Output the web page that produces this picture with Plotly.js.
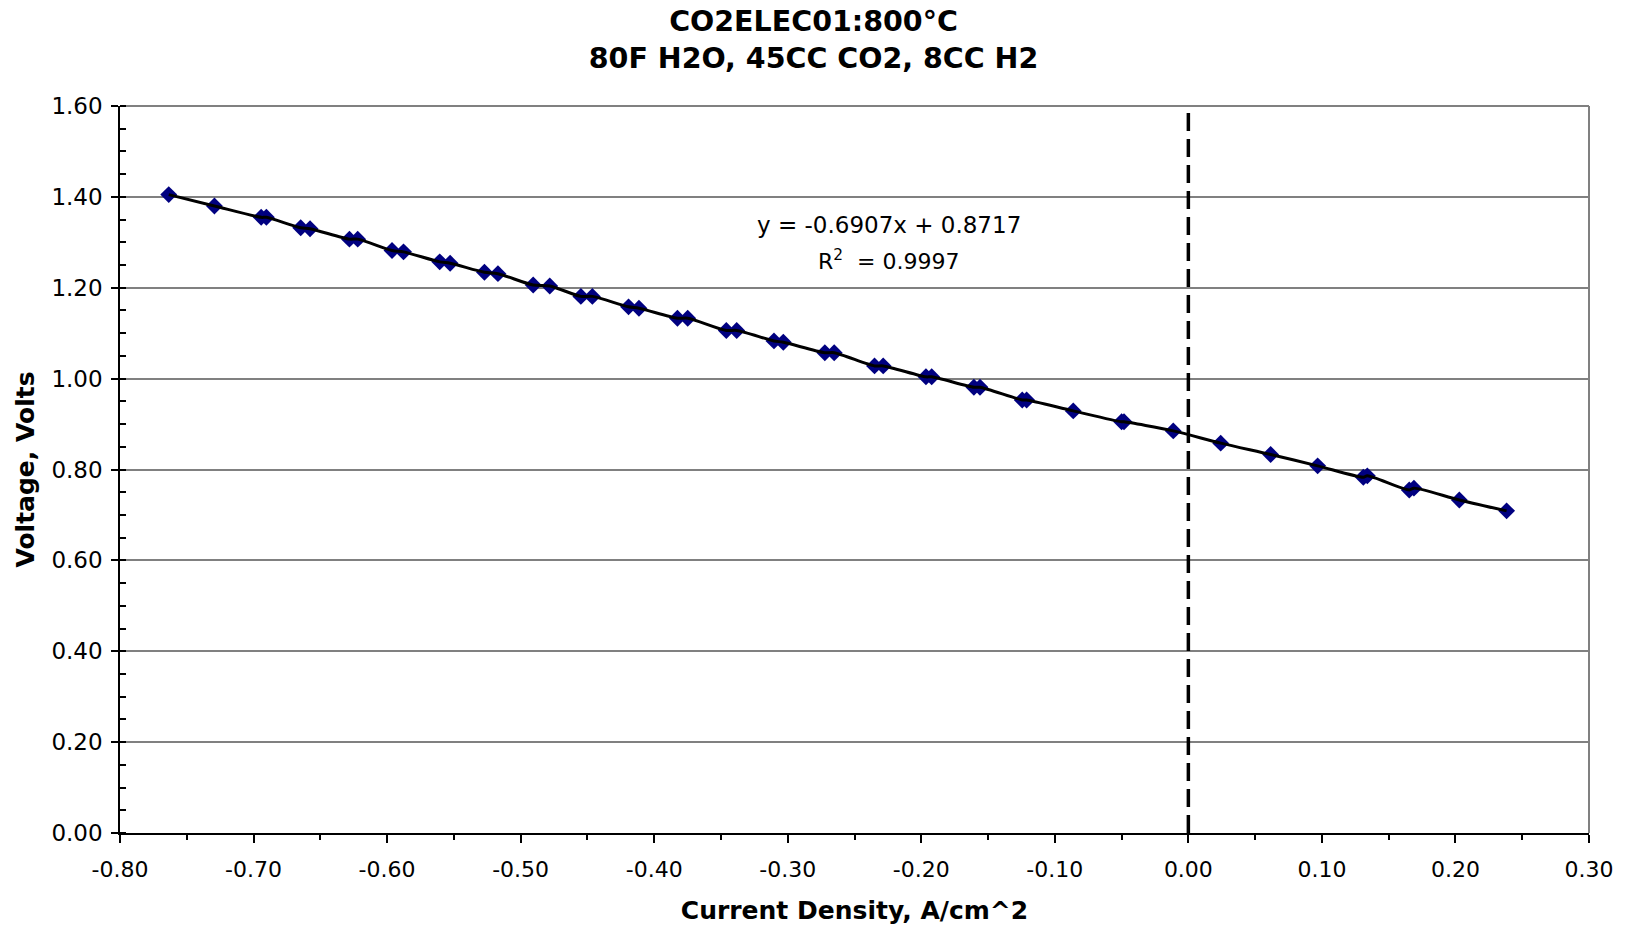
<!DOCTYPE html>
<html>
<head>
<meta charset="utf-8">
<script src="https://cdn.plot.ly/plotly-3.0.1.min.js"></script>
<style>
  html, body { margin: 0; padding: 0; background: #ffffff; }
  #chart { width: 1627px; height: 925px; }
</style>
</head>
<body>
<div id="chart"></div>
<script>
// Current density (A/cm^2) and voltage (V)
const currentDensity = [-0.7635, -0.7293, -0.6943, -0.6904, -0.6647, -0.6577, -0.6282, -0.6220,
  -0.5963, -0.5877, -0.5606, -0.5528, -0.5271, -0.5170, -0.4906, -0.4782, -0.4549, -0.4463,
  -0.4192, -0.4114, -0.3826, -0.3749, -0.3460, -0.3382, -0.3103, -0.3033, -0.2722, -0.2652,
  -0.2350, -0.2285, -0.1965, -0.1922, -0.1606, -0.1560, -0.1244, -0.1211, -0.0862, -0.0500,
  -0.0482, -0.0113, 0.0242, 0.0616, 0.0968, 0.1310, 0.1340, 0.1654, 0.1689, 0.2029, 0.2383];
const voltage = [1.405, 1.380, 1.355, 1.355, 1.332, 1.330, 1.307, 1.307,
  1.282, 1.279, 1.257, 1.254, 1.234, 1.231, 1.206, 1.204, 1.181, 1.181,
  1.158, 1.155, 1.133, 1.133, 1.106, 1.106, 1.083, 1.080, 1.057, 1.057,
  1.028, 1.028, 1.004, 1.004, 0.981, 0.981, 0.953, 0.953, 0.929, 0.905,
  0.905, 0.885, 0.858, 0.833, 0.808, 0.783, 0.786, 0.755, 0.759, 0.733, 0.709];

const xTickVals = [-0.8, -0.7, -0.6, -0.5, -0.4, -0.3, -0.2, -0.1, 0.0, 0.1, 0.2, 0.3];
const xTickText = ["-0.80", "-0.70", "-0.60", "-0.50", "-0.40", "-0.30", "-0.20", "-0.10", "0.00", "0.10", "0.20", "0.30"];
const yTickVals = [0, 0.2, 0.4, 0.6, 0.8, 1.0, 1.2, 1.4, 1.6];
const yTickText = ["0.00", "0.20", "0.40", "0.60", "0.80", "1.00", "1.20", "1.40", "1.60"];

const titleLines = ["CO2ELEC01:800°C", "80F H2O, 45CC CO2, 8CC H2"];
const xTitle = "Current Density, A/cm^2";
const yTitle = "Voltage, Volts";
const equationText = "y = -0.6907x + 0.8717";
const r2Text = "R<sup>2</sup>  = 0.9997";
const xRange = [-0.8, 0.3];
const yRange = [0, 1.6];

const FONT = "DejaVu Sans, Verdana, sans-serif";

const traces = [
  {
    x: currentDensity, y: voltage, type: "scatter", mode: "markers",
    marker: { symbol: "diamond", size: 13, color: "#000080", line: { width: 0 } },
    hoverinfo: "x+y", showlegend: false
  },
  {
    x: currentDensity, y: voltage, type: "scatter", mode: "lines",
    line: { color: "#000000", width: 3, shape: "spline", smoothing: 0.8 },
    hoverinfo: "skip", showlegend: false
  }
];

const layout = {
  width: 1627, height: 925,
  paper_bgcolor: "#ffffff", plot_bgcolor: "#ffffff",
  margin: { l: 120, r: 38, t: 106, b: 92, pad: 0 },
  font: { family: FONT, color: "#000000", size: 21 },
  title: {
    text: "<b>" + titleLines.join("<br>") + "</b>",
    font: { family: FONT, size: 28.5, color: "#000000" },
    x: 0.5, xref: "container", xanchor: "center",
    y: 0.967, yref: "container", yanchor: "top"
  },
  xaxis: {
    range: xRange, tickvals: xTickVals, ticktext: xTickText,
    showgrid: false, zeroline: false,
    showline: true, linecolor: "#000000", linewidth: 2,
    ticks: "outside", ticklen: 8, tickwidth: 1.5, tickcolor: "#000000",
    minor: { dtick: 0.05, tick0: 0, ticks: "outside", ticklen: 5, tickwidth: 1.5, tickcolor: "#000000", showgrid: false },
    tickfont: { family: FONT, size: 22 },
    ticklabelstandoff: 8,
    title: { text: "<b>" + xTitle + "</b>", font: { family: FONT, size: 25 }, standoff: 24 },
    fixedrange: true
  },
  xaxis2: {
    overlaying: "x", matches: "x", range: xRange, tickvals: xTickVals,
    showticklabels: false, showgrid: false, zeroline: false, showline: false,
    ticks: "inside", ticklen: 8, tickwidth: 1.5, tickcolor: "#000000", side: "bottom"
  },
  yaxis: {
    range: yRange, tickvals: yTickVals, ticktext: yTickText,
    showgrid: true, gridcolor: "#808080", gridwidth: 2, zeroline: false,
    showline: true, linecolor: "#000000", linewidth: 1.5,
    ticks: "outside", ticklen: 7, tickwidth: 1.5, tickcolor: "#000000",
    minor: { dtick: 0.05, tick0: 0, ticks: "inside", ticklen: 6, tickwidth: 1.5, tickcolor: "#000000", showgrid: false },
    tickfont: { family: FONT, size: 23 },
    ticklabelstandoff: 4,
    title: { text: "<b>" + yTitle + "</b>", font: { family: FONT, size: 25 }, standoff: 10 },
    fixedrange: true
  },
  shapes: [
    { type: "line", xref: "paper", yref: "paper", x0: 1, x1: 1, y0: 0, y1: 1,
      line: { color: "#808080", width: 2 }, layer: "below" },
    { type: "line", xref: "paper", yref: "paper", x0: 0, x1: 1, y0: 1, y1: 1,
      line: { color: "#808080", width: 2 }, layer: "below" },
    { type: "line", xref: "x", yref: "y", x0: 0, x1: 0, y0: yRange[0], y1: yRange[1],
      line: { color: "#000000", width: 3.5, dash: "18px,8px" }, layer: "above" }
  ],
  annotations: [
    { text: equationText, xref: "paper", yref: "paper", x: (889 - 120) / 1469, y: (833 - 225) / 727,
      xanchor: "center", yanchor: "middle", showarrow: false, font: { family: FONT, size: 23, color: "#000000" } },
    { text: r2Text, xref: "paper", yref: "paper", x: (889 - 120) / 1469, y: (833 - 260) / 727,
      xanchor: "center", yanchor: "middle", showarrow: false, font: { family: FONT, size: 22, color: "#000000" } }
  ],
  showlegend: false,
  hovermode: "closest"
};

Plotly.newPlot("chart", traces, layout, { displayModeBar: false, responsive: false });
</script>
</body>
</html>
